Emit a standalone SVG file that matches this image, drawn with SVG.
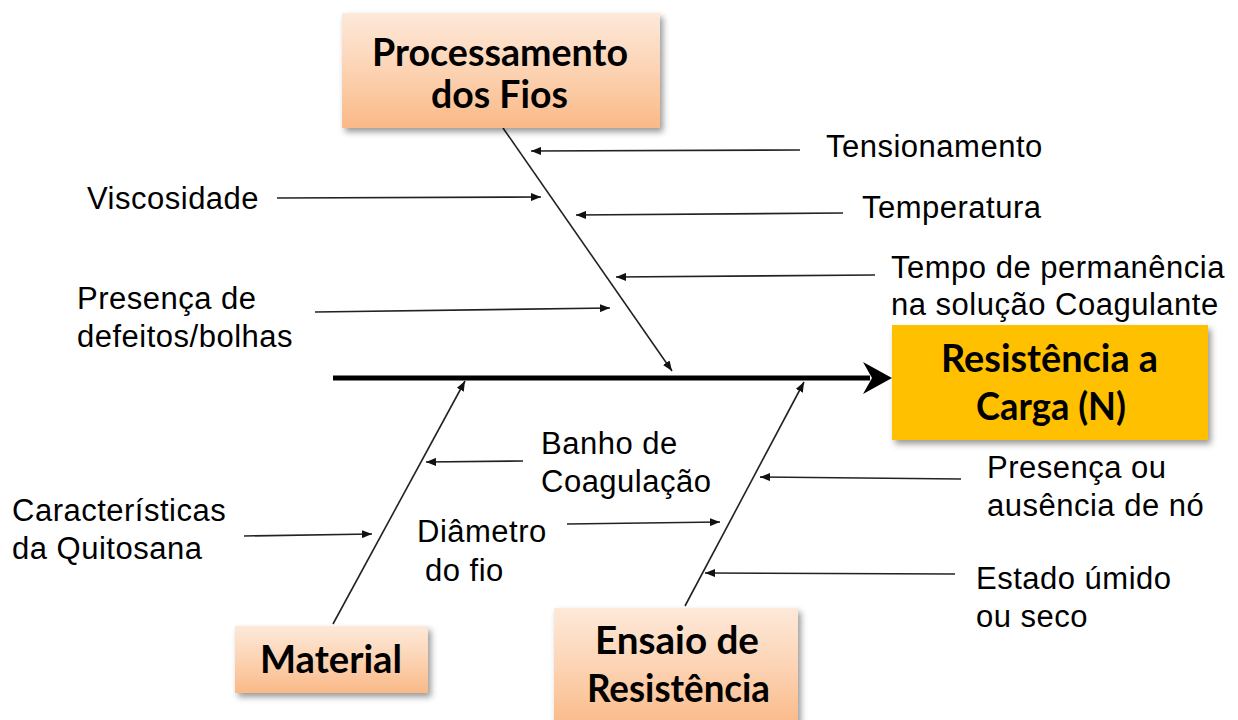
<svg xmlns="http://www.w3.org/2000/svg" width="1238" height="720" viewBox="0 0 1238 720">
<defs>
  <linearGradient id="peach" x1="0" y1="0" x2="0" y2="1">
    <stop offset="0" stop-color="#fde9da"/>
    <stop offset="0.5" stop-color="#fcd3b3"/>
    <stop offset="1" stop-color="#fab987"/>
  </linearGradient>
  <filter id="shadow" x="-10%" y="-10%" width="125%" height="130%">
    <feDropShadow dx="3" dy="4" stdDeviation="3" flood-color="#000" flood-opacity="0.4"/>
  </filter>
  <marker id="ah" viewBox="0 0 10 8" refX="10" refY="4" markerWidth="10" markerHeight="8" markerUnits="userSpaceOnUse" orient="auto">
    <path d="M0,0 L10,4 L0,8 Z" fill="#111"/>
  </marker>
</defs>
<style>
  .lbl { font-family: "Liberation Sans", Arial, sans-serif; font-size: 31px; letter-spacing: 0.5px; fill: #000; }
  .ttl { font-family: Lato, "Open Sans", sans-serif; font-weight: 700; font-size: 39px; fill: #000; }
  .bone { stroke: #222; stroke-width: 1.6; fill: none; marker-end: url(#ah); }
  .peach { fill: url(#peach); filter: url(#shadow); }
</style>
<rect width="1238" height="720" fill="#fff"/>

<g id="connectors">
  <line x1="333" y1="378" x2="870" y2="378" stroke="#000" stroke-width="5"/>
  <path d="M892,378 L863,362 L872,378 L863,394 Z" fill="#000"/>
  <line class="bone" x1="503" y1="128" x2="672" y2="371"/>
  <line class="bone" x1="333" y1="624" x2="465" y2="381"/>
  <line class="bone" x1="685" y1="606" x2="804" y2="382"/>
  <line class="bone" x1="800" y1="150" x2="531" y2="151"/>
  <line class="bone" x1="277" y1="198" x2="541" y2="197"/>
  <line class="bone" x1="843" y1="213" x2="576" y2="215"/>
  <line class="bone" x1="875" y1="275" x2="616" y2="277"/>
  <line class="bone" x1="315" y1="312" x2="610" y2="308"/>
  <line class="bone" x1="523" y1="461" x2="426" y2="462"/>
  <line class="bone" x1="244" y1="536" x2="372" y2="534"/>
  <line class="bone" x1="567" y1="524" x2="720" y2="522"/>
  <line class="bone" x1="961" y1="479" x2="760" y2="477"/>
  <line class="bone" x1="955" y1="574" x2="705" y2="573"/>
</g>

<g id="processamento">
  <rect class="peach" x="342" y="13" width="318" height="115"/>
  <text class="ttl" x="372" y="66" textLength="256" lengthAdjust="spacingAndGlyphs">Processamento</text>
  <text class="ttl" x="431" y="108" textLength="137" lengthAdjust="spacingAndGlyphs">dos Fios</text>
</g>

<g id="resistencia">
  <rect x="892" y="325" width="316" height="115" fill="#ffc000" filter="url(#shadow)"/>
  <text class="ttl" x="941" y="372" textLength="217" lengthAdjust="spacingAndGlyphs">Resistência a</text>
  <text class="ttl" x="976" y="420" textLength="150" lengthAdjust="spacingAndGlyphs">Carga (N)</text>
</g>

<g id="material">
  <rect class="peach" x="235" y="626" width="193" height="67"/>
  <text class="ttl" x="260" y="673" textLength="142" lengthAdjust="spacingAndGlyphs">Material</text>
</g>

<g id="ensaio">
  <rect class="peach" x="554" y="608" width="244" height="120"/>
  <text class="ttl" x="595" y="654" textLength="164" lengthAdjust="spacingAndGlyphs">Ensaio de</text>
  <text class="ttl" x="587" y="702" textLength="183" lengthAdjust="spacingAndGlyphs">Resistência</text>
</g>

<g id="tensionamento"><text class="lbl" x="826" y="157">Tensionamento</text></g>
<g id="temperatura"><text class="lbl" x="862" y="218">Temperatura</text></g>
<g id="tempo">
  <text class="lbl" x="891" y="278">Tempo de permanência</text>
  <text class="lbl" x="891" y="315">na solução Coagulante</text>
</g>
<g id="viscosidade"><text class="lbl" x="87" y="209">Viscosidade</text></g>
<g id="defeitos">
  <text class="lbl" x="77" y="309">Presença de</text>
  <text class="lbl" x="77" y="347">defeitos/bolhas</text>
</g>
<g id="banho">
  <text class="lbl" x="541" y="454">Banho de</text>
  <text class="lbl" x="541" y="492">Coagulação</text>
</g>
<g id="caracteristicas">
  <text class="lbl" x="12" y="521">Características</text>
  <text class="lbl" x="12" y="559">da Quitosana</text>
</g>
<g id="diametro">
  <text class="lbl" x="417" y="542">Diâmetro</text>
  <text class="lbl" x="425" y="581">do fio</text>
</g>
<g id="no">
  <text class="lbl" x="987" y="478">Presença ou</text>
  <text class="lbl" x="987" y="516">ausência de nó</text>
</g>
<g id="estado">
  <text class="lbl" x="976" y="589">Estado úmido</text>
  <text class="lbl" x="976" y="627">ou seco</text>
</g>
</svg>
